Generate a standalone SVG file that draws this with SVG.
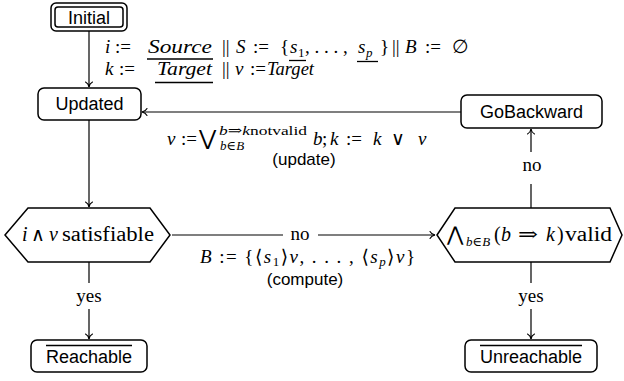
<svg xmlns="http://www.w3.org/2000/svg" width="624" height="381" viewBox="0 0 624 381">
<style>
.box{fill:#fff;stroke:#000;stroke-width:1.5}
.sans{font-family:"Liberation Sans","DejaVu Sans",sans-serif;font-size:18px;fill:#000}
.m{font-family:"Liberation Serif","Times New Roman",Tinos,"DejaVu Serif",serif;font-size:19px;fill:#000}
.sym{font-family:"DejaVu Serif","Liberation Serif",serif;font-style:normal}
.big{font-size:20px}
.it{font-style:italic}
.sm{font-size:13px}
.lbl{font-family:"Liberation Sans","DejaVu Sans",sans-serif;font-size:17px;fill:#000}
.con{fill:none;stroke:#000;stroke-width:1.2}
.ul{stroke:#000;stroke-width:1.3}
</style>
<defs>
<marker id="arr" viewBox="-6 -4 7 8" refX="0" refY="0" markerWidth="7" markerHeight="8" orient="auto" markerUnits="userSpaceOnUse">
<path d="M-5,-3.5 C-4,-1.5 -1.5,-0.3 0,0 C-1.5,0.3 -4,1.5 -5,3.5" fill="none" stroke="#000" stroke-width="1.1" stroke-linecap="round"/>
</marker>
</defs>
<rect width="624" height="381" fill="#fff"/>

<g id="connectors">
<path class="con" d="M89,31 V87" marker-end="url(#arr)"/>
<path class="con" d="M89,120 V207" marker-end="url(#arr)"/>
<path class="con" d="M172,235 H283 M318,235 H435" marker-end="url(#arr)"/>
<path class="con" d="M531,208 V184 M531,152 V129" marker-end="url(#arr)"/>
<path class="con" d="M461,112 H142" marker-end="url(#arr)"/>
<path class="con" d="M89,262 V283 M89,309 V339" marker-end="url(#arr)"/>
<path class="con" d="M531,262 V283 M531,309 V339" marker-end="url(#arr)"/>
</g>

<g id="initial">
<rect class="box" x="51" y="3" width="76" height="28" rx="5"/>
<rect class="box" x="55" y="7" width="68" height="20" rx="3"/>
<text class="sans" x="89" y="24" text-anchor="middle">Initial</text>
</g>

<g id="updated">
<rect class="box" x="38" y="88" width="103" height="32" rx="6"/>
<text class="sans" x="89.5" y="110" text-anchor="middle">Updated</text>
</g>

<g id="gobackward">
<rect class="box" x="461" y="95" width="141" height="33" rx="6"/>
<text class="sans" x="531.5" y="118" text-anchor="middle">GoBackward</text>
</g>

<g id="satisfiable">
<polygon class="box" points="5,235 28,208 150,208 170,235 150,262 28,262"/>
<text class="m big" y="241"><tspan x="22" class="it">i</tspan><tspan x="31" class="sym" font-size="19">∧</tspan><tspan x="49" class="it">v</tspan><tspan x="62" textLength="92" lengthAdjust="spacingAndGlyphs">satisfiable</tspan></text>
</g>

<g id="valid">
<polygon class="box" points="437,235 455,208 610,208 622,235 610,262 455,262"/>
<text class="m big" y="241"><tspan x="447" class="sym" font-size="20">⋀</tspan><tspan class="sm" x="466" y="246"><tspan class="it">b</tspan>∈<tspan class="it">B</tspan></tspan><tspan x="494" y="241">(</tspan><tspan x="501" class="it">b</tspan><tspan x="518" class="sym" textLength="20" lengthAdjust="spacingAndGlyphs">⇒</tspan><tspan x="546" class="it">k</tspan><tspan x="557">)</tspan><tspan x="565" textLength="47" lengthAdjust="spacingAndGlyphs">valid</tspan></text>
</g>

<g id="reachable">
<rect class="box" x="31" y="340" width="116" height="32" rx="6"/>
<text class="sans" x="89" y="363" text-anchor="middle">Reachable</text>
<line class="ul" x1="46" y1="345.5" x2="132" y2="345.5"/>
</g>

<g id="unreachable">
<rect class="box" x="465" y="340" width="132" height="32" rx="6"/>
<text class="sans" x="531" y="363" text-anchor="middle">Unreachable</text>
<line class="ul" x1="480" y1="345.5" x2="582" y2="345.5"/>
</g>

<g id="labels">
<text class="m" y="53"><tspan x="105" class="it">i</tspan><tspan x="115">:=</tspan><tspan x="148" class="it" textLength="64" lengthAdjust="spacingAndGlyphs">Source</tspan><tspan x="222">||</tspan><tspan x="236" class="it">S</tspan><tspan x="253">:=</tspan><tspan x="280">{</tspan><tspan x="290" class="it">s</tspan><tspan class="sm" x="298" y="56.5">1</tspan><tspan x="305" y="53">, . . . ,</tspan><tspan x="358" class="it">s</tspan><tspan class="sm it" x="366" y="56.5">p</tspan><tspan x="380" y="53">}</tspan><tspan x="392">||</tspan><tspan x="405" class="it">B</tspan><tspan x="425">:=</tspan><tspan x="452">∅</tspan></text>
<line class="ul" x1="289" y1="60.5" x2="306" y2="60.5"/>
<line class="ul" x1="147" y1="59" x2="213" y2="59"/>
<line class="ul" x1="357" y1="61.5" x2="378" y2="61.5"/>
<text class="m" y="75"><tspan x="105" class="it">k</tspan><tspan x="119">:=</tspan><tspan x="157" class="it" textLength="55" lengthAdjust="spacingAndGlyphs">Target</tspan><tspan x="222">||</tspan><tspan x="235" class="it">v</tspan><tspan x="250">:=</tspan><tspan x="267" class="it" textLength="47" lengthAdjust="spacingAndGlyphs">Target</tspan></text>
<line class="ul" x1="155" y1="82.5" x2="213" y2="82.5"/>

<text class="m" y="145"><tspan x="167" class="it">v</tspan><tspan x="181">:=</tspan><tspan x="199" class="sym" font-size="21">⋁</tspan><tspan class="sm" x="219" y="135" textLength="88" lengthAdjust="spacingAndGlyphs"><tspan class="it">b</tspan>⇒<tspan class="it">k</tspan>notvalid</tspan><tspan class="sm" x="220" y="150"><tspan class="it">b</tspan>∈<tspan class="it">B</tspan></tspan><tspan x="313" y="145" class="it">b</tspan><tspan x="322">;</tspan><tspan x="330" class="it">k</tspan><tspan x="346">:=</tspan><tspan x="373" class="it">k</tspan><tspan x="391" class="sym" font-size="19">∨</tspan><tspan x="418" class="it">v</tspan></text>
<text class="lbl" x="304" y="165" text-anchor="middle">(update)</text>

<text class="m" x="300" y="240" text-anchor="middle">no</text>
<text class="m" x="200" y="263" textLength="215" lengthAdjust="spacing"><tspan class="it">B</tspan> := {⟨<tspan class="it">s</tspan><tspan class="sm" dy="3">1</tspan><tspan dy="-3">⟩</tspan><tspan class="it">v</tspan>, . . . , ⟨<tspan class="it">s</tspan><tspan class="sm it" dy="3">p</tspan><tspan dy="-3">⟩</tspan><tspan class="it">v</tspan>}</text>
<text class="lbl" x="305" y="285" text-anchor="middle">(compute)</text>

<text class="m" x="532" y="171" text-anchor="middle">no</text>
<text class="m" x="89" y="302" text-anchor="middle">yes</text>
<text class="m" x="531" y="302" text-anchor="middle">yes</text>
</g>
</svg>
